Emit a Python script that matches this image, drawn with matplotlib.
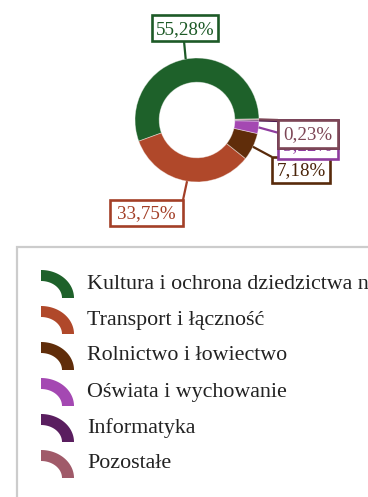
import matplotlib
matplotlib.use("Agg")
import matplotlib.pyplot as plt
from matplotlib.patches import Rectangle, Polygon
import numpy as np

plt.rcParams['font.family'] = ['Liberation Serif', 'DejaVu Serif']

categories = [
    "Kultura i ochrona dziedzictwa narodowego",
    "Transport i łączność",
    "Rolnictwo i łowiectwo",
    "Oświata i wychowanie",
    "Informatyka",
    "Pozostałe",
]
shares = [55.28, 33.75, 7.18, 3.22, 0.34, 0.23]
label_texts = ["55,28%", "33,75%", "7,18%", "3,22%", "0,34%", "0,23%"]
colors = ["#1e612a", "#b0482a", "#602d0a", "#a448b2", "#5a1e5f", "#a05a69"]
border_colors = ["#1d5a27", "#a33f27", "#582a0b", "#8e3c9e", "#4e1a52", "#7d4656"]
text_colors = ["#1d5a27", "#a33f27", "#4a2409", "#8e3c9e", "#4e1a52", "#7d4656"]

W, H = 368, 497
fig = plt.figure(figsize=(W / 100, H / 100), dpi=100)
ax = fig.add_axes([0, 0, 1, 1])

# work in pixel-like units with origin at top-left
def py(y):
    return H - y

cx, cy, R = 197, 120, 62
wedges, _ = ax.pie(shares, colors=colors, startangle=1, counterclock=True,
                   radius=R, center=(cx, py(cy)),
                   wedgeprops=dict(width=R * 0.39, edgecolor=(1, 1, 1, 0.45), linewidth=0.6))
ax.set_xlim(0, W)
ax.set_ylim(0, H)
ax.set_aspect('auto')
ax.axis('off')

# label boxes: (left, top, right, bottom, text baseline) in pixels
boxes = [
    (152, 15, 218, 41, 34),
    (110, 200, 183, 226, 218.5),
    (272, 157, 330, 183, 175.5),
    (278, 133, 338, 159, 150.5),
    (278, 120, 338, 148, 139.5),
    (278, 120, 338, 148, 139.5),
]
# leader end points on the boxes
ends = [(184, 41), (183, 200), (272, 157), (279, 133), (278, 121), (278, 120)]
for z, i in enumerate(range(len(shares))):
    w = wedges[i]
    ang = np.deg2rad((w.theta1 + w.theta2) / 2)
    sx, sy = cx + R * np.cos(ang), cy - R * np.sin(ang)
    ex, ey = ends[i]
    ax.plot([sx, ex], [py(sy), py(ey)], color=border_colors[i], lw=1.6,
            zorder=3 + 2 * z, solid_capstyle='butt')
    l, t, r, b, base = boxes[i]
    ax.add_patch(Rectangle((l, py(b)), r - l, b - t, facecolor='white',
                           edgecolor=border_colors[i], lw=1.9, zorder=4 + 2 * z))
    ax.text((l + r) / 2, py(base), label_texts[i], ha='center', va='baseline',
            fontsize=13.7, color=text_colors[i], zorder=4.5 + 2 * z)

# legend frame (runs past the figure edge)
ax.add_patch(Rectangle((17, py(505)), 360, 505 - 247, facecolor='none',
                       edgecolor='#cccccc', lw=1.6, zorder=1, clip_on=False))

# legend entries with arc-shaped swatches
t = np.linspace(0, np.pi / 2, 40)
for i, (name, col) in enumerate(zip(categories, colors)):
    oy = 298 + 36 * i
    ox = 41
    outer = [(ox + 33 * np.cos(a), py(oy - 28 * np.sin(a))) for a in t]
    inner = [(ox + 21 * np.cos(a), py(oy - 17 * np.sin(a))) for a in t[::-1]]
    ax.add_patch(Polygon(outer + inner, closed=True, facecolor=col,
                         edgecolor='none', zorder=2))
    ax.text(87, py(288.5 + 36 * i), name, ha='left', va='baseline',
            fontsize=15.8, color='#222222', zorder=2)

fig.savefig("out.png", dpi=100)
